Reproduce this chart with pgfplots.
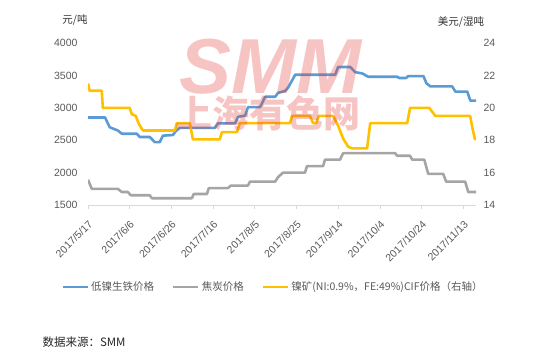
\documentclass[border=0pt]{standalone}
\usepackage{pgfplots}
\pgfplotsset{compat=1.18}
\usepackage{fontspec}
\setmainfont{Liberation Sans}
\newfontfamily\cjk{Noto Sans CJK SC}
\definecolor{cblue}{RGB}{91,155,213}
\definecolor{cgray}{RGB}{165,165,165}
\definecolor{cyel}{RGB}{255,192,0}
\definecolor{ctick}{RGB}{89,89,89}
\definecolor{caxis}{RGB}{217,217,217}
\definecolor{cwm}{RGB}{230,60,60}
\begin{document}
\begin{tikzpicture}
\path[use as bounding box] (0pt,0pt) rectangle (535pt,-354pt);
\pgfplotsset{
  base/.style={
    at={(88pt,-205pt)}, anchor=south west, scale only axis,
    width=388pt, height=162pt, xmin=0, xmax=186,
    /pgf/number format/assume math mode=true,
    /pgf/number format/1000 sep={},
    tick label style={font=\fontsize{10.5}{12}\selectfont, text=ctick},
    every axis plot/.append style={line width=2.6pt, line join=round, no markers},
  }
}
\begin{axis}[base,
  ymin=1500, ymax=4000, ytick={1500,2000,...,4000},
  axis x line*=bottom, axis y line*=left,
  y axis line style={draw=none}, ytick style={draw=none},
  x axis line style={draw=caxis, line width=0.8pt, -},
  xtick={0,20,...,180},
  xticklabels={2017/5/17,2017/6/6,2017/6/26,2017/7/16,2017/8/5,2017/8/25,2017/9/14,2017/10/4,2017/10/24,2017/11/13},
  xtick style={draw=caxis, line width=0.8pt}, tick align=outside, major tick length=4pt,
  xticklabel style={xshift=5pt, yshift=-11pt, rotate=45, anchor=east},
  yticklabel style={xshift=-3pt},
]
\addplot[cblue] coordinates {
(0,2850)(8.2,2850)(9.2,2780)(10.4,2700)(14.3,2650)(16.2,2600)(23.4,2600)(24.8,2550)
(29.6,2550)(32.0,2470)(34.4,2470)(35.9,2570)(40.7,2580)(42.1,2640)(44.0,2690)
(60.8,2690)(62.3,2760)(70.5,2760)(71.9,2860)(75.3,2880)(76.7,3010)(82.5,3010)
(84.9,3170)(89.7,3170)(91.1,3230)(94.5,3260)(95.9,3310)(97.8,3420)(99.3,3510)
(118.5,3510)(119.9,3630)(125.7,3630)(128.1,3550)(131.5,3530)(134.3,3480)
(148.2,3480)(149.2,3460)(152.5,3460)(153.5,3490)(160.8,3490)(162.2,3380)
(164.1,3330)(174.6,3330)(176.1,3250)(181.8,3250)(183.3,3110)(186,3110)};
\addplot[cgray] coordinates {
(0,1890)(1.8,1750)(14.3,1750)(16.2,1700)(19.1,1700)(20.5,1650)(29.6,1650)
(30.6,1605)(49.8,1605)(50.7,1670)(57.0,1670)(57.9,1760)(67.0,1760)(68.5,1800)
(76.7,1800)(77.6,1860)(89.7,1860)(91.1,1930)(93.5,2000)(104.0,2000)(105.0,2100)
(112.7,2100)(113.6,2200)(120.8,2200)(122.3,2300)(147.2,2300)(148.2,2260)
(154.4,2260)(155.4,2200)(161.2,2200)(163.1,1980)(170.3,1980)(171.7,1860)
(180.8,1860)(182.3,1700)(186,1700)};
\end{axis}
\begin{axis}[base,
  ymin=14, ymax=24, ytick={14,16,...,24},
  axis x line=none, axis y line*=right,
  y axis line style={draw=none}, ytick style={draw=none},
  yticklabel style={xshift=4pt},
  legend style={at={(0.477,-0.506)}, anchor=center, draw=none, fill=none,
    legend columns=3, font=\cjk\fontsize{10.5}{12}\selectfont, text=ctick,
    /tikz/every even column/.append style={column sep=16pt},
    inner sep=0pt},
  legend cell align=left,
  legend image code/.code={\draw[#1, line width=2.6pt] (0pt,0pt) -- (25pt,0pt);},
]
\addlegendimage{cblue}
\addlegendentry{低镍生铁价格}
\addlegendimage{cgray}
\addlegendentry{焦炭价格}
\addplot[cyel] coordinates {
(0,21.5)(0.8,21.05)(6.6,21.05)(7.1,20.0)(20.0,20.0)(21.0,19.6)(22.9,19.5)
(24.4,19.0)(26.3,18.6)(41.6,18.6)(42.6,19.05)(48.8,19.05)(50.3,18.05)(63.2,18.05)
(64.2,18.5)(71.4,18.5)(72.8,19.05)(96.8,19.05)(97.8,19.5)(106.4,19.5)(107.9,19.05)
(109.3,19.05)(110.7,19.5)(117.5,19.5)(119.9,18.9)(122.3,18.1)(124.7,17.6)
(126.6,17.5)(133.8,17.5)(135.3,19.05)(153.0,19.05)(154.4,20.0)(163.6,20.0)
(166.5,19.5)(183.2,19.5)(184.2,18.8)(185.6,18.0)};
\addlegendentry{镍矿(NI:0.9\%，FE:49\%)CIF价格（右轴）}
\end{axis}
% watermark
\node[text=cwm, opacity=0.3, font=\fontsize{78}{78}\selectfont\bfseries\itshape] at (270pt,-67pt) {SMM};
\node[text=cwm, opacity=0.3, font=\cjk\bfseries\fontsize{37}{37}\selectfont] at (268pt,-113pt) {上海有色网};
% unit labels
\node[text=black!80, font=\cjk\fontsize{10.5}{12}\selectfont] at (75pt,-20pt) {元/吨};
\node[text=black!80, font=\cjk\fontsize{10.5}{12}\selectfont] at (461pt,-22pt) {美元/湿吨};
\node[anchor=west, text=black!85, font=\cjk\fontsize{11.5}{13}\selectfont] at (39pt,-342pt) {数据来源：SMM};
\end{tikzpicture}
\end{document}
